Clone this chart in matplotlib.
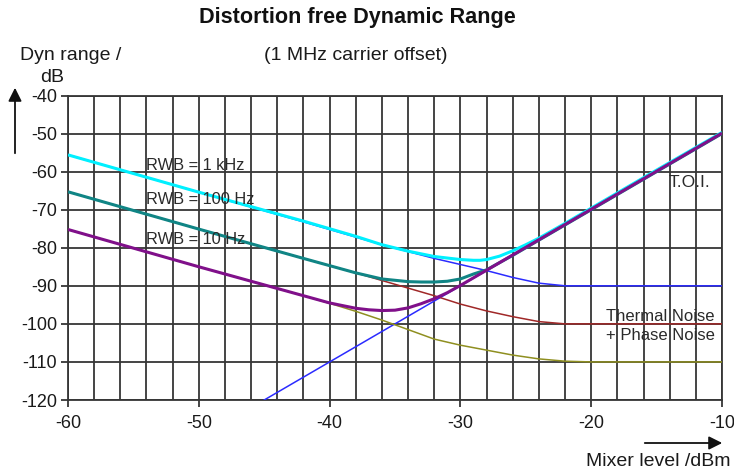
import matplotlib
matplotlib.use("Agg")
import matplotlib.pyplot as plt
import numpy as np

plt.rcParams['font.family'] = ['Liberation Sans', 'DejaVu Sans']

# ---- data ----
x_ticks = [-60, -50, -40, -30, -20, -10]
x_tick_labels = ["-60", "-50", "-40", "-30", "-20", "-10"]
y_ticks = [-120, -110, -100, -90, -80, -70, -60, -50, -40]
y_tick_labels = ["-120", "-110", "-100", "-90", "-80", "-70", "-60", "-50", "-40"]

# third-order intercept line (thin blue)
toi_x = [-45, -10]
toi_y = [-120, -50]

# noise lines (thin)
noise_x = [-60, -50, -42, -40, -38, -36, -34, -32, -30, -28, -26, -24, -22, -20, -10]
noise_1k = [-55.6, -65.4, -73.2, -75.2, -77.2, -79.2, -81.0, -82.8, -84.4, -86.0, -87.8, -89.3, -90.0, -90.0, -90.0]
noise_100 = [-65.3, -75.1, -82.8, -84.7, -86.6, -88.6, -90.6, -92.6, -94.8, -96.6, -98.1, -99.4, -100.0, -100.0, -100.0]
noise_10 = [-75.2, -85.0, -92.6, -94.6, -96.7, -99.0, -101.5, -104.0, -105.6, -106.9, -108.2, -109.2, -109.8, -110.0, -110.0]

# combined dynamic range curves (thick)
c1k_x = [-60, -50, -42, -40, -38, -36, -34, -32, -30, -29, -28.5, -28, -27, -26, -25, -24, -22, -20, -15, -10]
c1k_y = [-55.6, -65.4, -73.0, -75.0, -77.0, -79.2, -80.9, -82.3, -83.1, -83.3, -83.3, -83.1, -82.2, -80.8, -79.2, -77.5, -73.6, -69.6, -59.6, -49.7]

c100_x = [-60, -50, -42, -40, -38, -36, -34, -33, -32, -31, -30, -29, -28, -26, -24, -20, -10]
c100_y = [-65.3, -75.1, -82.8, -84.7, -86.6, -88.2, -88.9, -89.0, -89.0, -88.8, -88.2, -86.9, -85.8, -82.0, -78.0, -70.0, -50.0]

c10_x = [-60, -50, -42, -40, -38, -37, -36, -35, -34, -33, -32, -31, -30, -20, -10]
c10_y = [-75.2, -85.0, -92.6, -94.5, -95.9, -96.3, -96.5, -96.4, -95.8, -94.7, -93.4, -91.8, -89.9, -69.9, -49.9]

labels_text = ["RWB = 1 kHz", "RWB = 100 Hz", "RWB = 10 Hz"]
labels_pos = [(-54, -58.3), (-54, -67.3), (-54, -77.8)]

# ---- figure ----
fig = plt.figure(figsize=(7.34, 4.70), dpi=100)
ax = fig.add_axes([68 / 734, 1 - 400 / 470, (722 - 68) / 734, (400 - 95.5) / 470])

grid_c = '#363636'
ax.set_xlim(-60, -10)
ax.set_ylim(-120, -40)
ax.set_xticks(x_ticks)
ax.set_xticklabels(x_tick_labels)
ax.set_xticks(np.arange(-60, -9, 2), minor=True)
ax.set_yticks(y_ticks)
ax.set_yticklabels(y_tick_labels)
ax.grid(True, which='both', color=grid_c, lw=1.3)
ax.set_axisbelow(True)
ax.tick_params(axis='both', which='major', length=5, width=1.3, color=grid_c,
               labelsize=13, pad=3, labelcolor='#1a1a1a')
ax.tick_params(axis='x', which='minor', length=0)
ax.tick_params(axis='x', which='major', pad=6)
for s in ax.spines.values():
    s.set_color(grid_c)
    s.set_linewidth(1.3)

ax.plot(toi_x, toi_y, color='#2b2bff', lw=1.1, zorder=3)
ax.plot(noise_x, noise_1k, color='#2b2bff', lw=1.1, zorder=3)
ax.plot(noise_x, noise_100, color='#a02828', lw=1.1, zorder=3)
ax.plot(noise_x, noise_10, color='#8f8f20', lw=1.1, zorder=3)

ax.plot(c1k_x, c1k_y, color='#00f0ff', lw=2.2, zorder=4, solid_capstyle='butt')
ax.plot(c100_x, c100_y, color='#108585', lw=2.2, zorder=5, solid_capstyle='butt')
ax.plot(c10_x, c10_y, color='#80108a', lw=2.2, zorder=6, solid_capstyle='butt')

for t, (lx, ly) in zip(labels_text, labels_pos):
    ax.text(lx, ly, t, fontsize=11.8, color='#2a2a2a', ha='left', va='center', zorder=7)
ax.text(-14.1, -62.8, "T.O.I.", fontsize=12.5, color='#2a2a2a', ha='left', va='center', zorder=7)
ax.text(-18.9, -98.0, "Thermal Noise", fontsize=12, color='#2a2a2a', ha='left', va='center', zorder=7)
ax.text(-18.9, -103.0, "+ Phase Noise", fontsize=12, color='#2a2a2a', ha='left', va='center', zorder=7)

# titles and axis labels
fig.text(357 / 734, 1 - 18 / 470, "Distortion free Dynamic Range", ha='center', va='center',
         fontsize=15.6, fontweight='bold', color='#111111')
fig.text(356 / 734, 1 - 55 / 470, "(1 MHz carrier offset)", ha='center', va='center',
         fontsize=14, color='#1a1a1a')
fig.text(20 / 734, 1 - 55 / 470, "Dyn range /", ha='left', va='center', fontsize=14, color='#1a1a1a')
fig.text(40 / 734, 1 - 78 / 470, "dB", ha='left', va='center', fontsize=14, color='#1a1a1a')
fig.text(731 / 734, 1 - 462 / 470, "Mixer level /dBm", ha='right', va='center', fontsize=14, color='#1a1a1a')

# arrows
fig.add_artist(matplotlib.patches.FancyArrowPatch((15 / 734, 1 - 156 / 470), (15 / 734, 1 - 85 / 470),
               transform=fig.transFigure, arrowstyle='-|>', mutation_scale=20, lw=1.3, color='#111111'))
fig.add_artist(matplotlib.patches.FancyArrowPatch((642 / 734, 1 - 443 / 470), (725 / 734, 1 - 443 / 470),
               transform=fig.transFigure, arrowstyle='-|>', mutation_scale=20, lw=1.3, color='#111111'))

fig.savefig("out.png", dpi=100)
